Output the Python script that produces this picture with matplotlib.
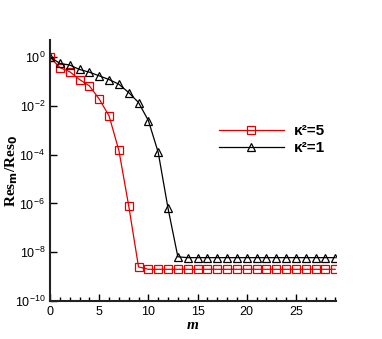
import matplotlib
matplotlib.use("Agg")
import matplotlib.pyplot as plt
from matplotlib.ticker import LogLocator, MultipleLocator, LogFormatterMathtext, NullLocator

plt.rcParams['font.family'] = ['Liberation Sans', 'DejaVu Sans']
plt.rcParams['mathtext.fontset'] = 'custom'
plt.rcParams['mathtext.rm'] = 'Liberation Sans'
plt.rcParams['mathtext.default'] = 'regular'

# residual history, m = 0..29
m = list(range(30))
res_k5 = [1.0, 0.37, 0.25, 0.12, 0.066, 0.019, 0.0039, 1.5e-4, 8.0e-7, 2.5e-9] + [2.0e-9] * 20
res_k1 = [1.0, 0.55, 0.47, 0.31, 0.24, 0.17, 0.12, 0.077, 0.035, 0.0137,
          0.0025, 1.25e-4, 6.3e-7, 6.5e-9] + [6.0e-9] * 16
labels = ["κ²=5", "κ²=1"]

fig = plt.figure(figsize=(3.82, 3.39), dpi=100)
ax = fig.add_axes([0.131, 0.112, 0.749, 0.770])

ax.semilogy(m, res_k5, '-s', color='#e00000', lw=0.9, ms=6, mfc='none',
            mec='#e00000', mew=0.9, label=labels[0])
ax.semilogy(m, res_k1, '-^', color='black', lw=0.9, ms=6.2, mfc='none',
            mec='black', mew=0.9, label=labels[1])

ax.set_xlim(0, 29.1)
ax.set_ylim(1e-10, 5)
ax.yaxis.set_major_locator(LogLocator(base=100.0))
ax.yaxis.set_major_formatter(LogFormatterMathtext(base=10))
ax.yaxis.set_minor_locator(NullLocator())
ax.xaxis.set_major_locator(MultipleLocator(5))
ax.xaxis.set_minor_locator(MultipleLocator(1))

for s in ['top', 'right']:
    ax.spines[s].set_visible(False)
for s in ['left', 'bottom']:
    ax.spines[s].set_linewidth(1.5)
    ax.spines[s].set_color('#222222')
ax.tick_params(which='both', direction='in', labelsize=9, width=1.0)
ax.tick_params(which='major', length=5)
ax.tick_params(which='minor', length=3)

ax.set_xlabel('m', family='Liberation Serif', style='italic', weight='bold',
              fontsize=11, labelpad=1)
ax.set_ylabel(r'Res$_{\mathbf{m}}$/Res$_{\mathbf{0}}$', family='Liberation Serif',
              weight='bold', fontsize=11)
ax.yaxis.set_label_coords(-0.106, 0.5)

leg = ax.legend(loc='center left', bbox_to_anchor=(0.541, 0.619), frameon=False,
                handlelength=4.3, handletextpad=0.6, labelspacing=0.2,
                numpoints=1, prop={'family': 'Liberation Sans', 'weight': 'bold', 'size': 11})

fig.savefig('out.png', dpi=100)
